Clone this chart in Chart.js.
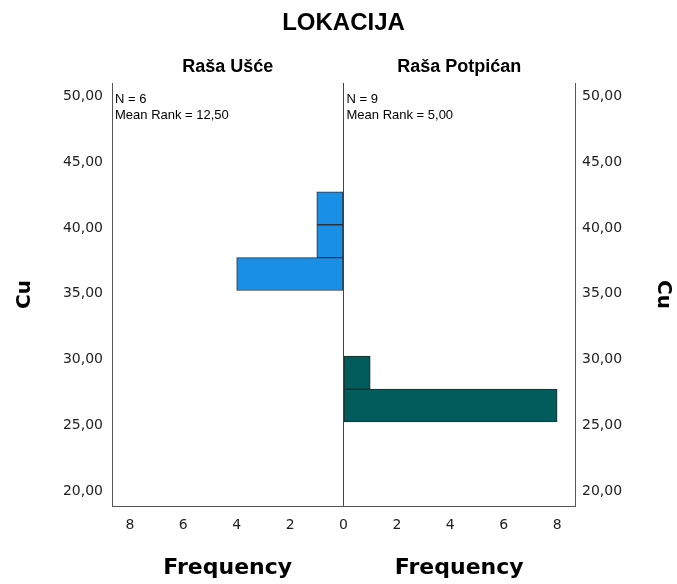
<!DOCTYPE html>
<html>
<head>
<meta charset="utf-8">
<script src="https://cdn.jsdelivr.net/npm/chart.js@4"></script>
<style>
    html, body { margin: 0; padding: 0; background: #ffffff; }
    #wrap { width: 677px; height: 584px; position: relative; }
</style>
</head>
<body>
<div id="wrap"><canvas id="histChart" width="677" height="584"></canvas></div>
<script>
// Dados do gráfico (histograma duplo, Mann-Whitney)
const chartTitle = "LOKACIJA";
const groupNames = ["Raša Ušće", "Raša Potpićan"];
const groupN = [6, 9];
const groupMeanRank = ["12,50", "5,00"];

// centros dos intervalos (Cu) e frequências
const usceBins = [36.5, 39, 41.5];
const usceFreq = [4, 1, 1];
const potpicanBins = [26.5, 29];
const potpicanFreq = [8, 1];

const yTicks = [20, 25, 30, 35, 40, 45, 50];
const xTicks = [-8, -6, -4, -2, 0, 2, 4, 6, 8];

document.addEventListener("DOMContentLoaded", function () {

    // Plugin para os textos dos painéis
    const panelText = {
        id: "panelText",
        afterDraw(chart) {
            const ctx = chart.ctx;
            const area = chart.chartArea;
            const zeroX = chart.scales.x.getPixelForValue(0);
            ctx.save();
            ctx.fillStyle = "#000000";
            ctx.textAlign = "center";
            ctx.textBaseline = "middle";

            ctx.font = "bold 24px 'Liberation Sans', Arial, sans-serif";
            ctx.fillText(chartTitle, (area.left + area.right) / 2, 23);

            ctx.font = "bold 18px 'Liberation Sans', Arial, sans-serif";
            ctx.fillText(groupNames[0], (area.left + zeroX) / 2, 67);
            ctx.fillText(groupNames[1], (zeroX + area.right) / 2, 67);

            ctx.font = "bold 22px 'DejaVu Sans', sans-serif";
            ctx.fillText("Frequency", (area.left + zeroX) / 2, 568);
            ctx.fillText("Frequency", (zeroX + area.right) / 2, 568);

            ctx.textAlign = "left";
            ctx.font = "13px 'Liberation Sans', Arial, sans-serif";
            ctx.fillText("N = " + groupN[0], area.left + 3, 99);
            ctx.fillText("Mean Rank = " + groupMeanRank[0], area.left + 3, 115);
            ctx.fillText("N = " + groupN[1], zeroX + 3, 99);
            ctx.fillText("Mean Rank = " + groupMeanRank[1], zeroX + 3, 115);
            ctx.restore();
        }
    };

    const tickFont = { family: "'DejaVu Sans', sans-serif", size: 14 };
    const yLabel = v => v.toFixed(2).replace(".", ",");

    const ctx = document.getElementById("histChart").getContext("2d");
    const histChart = new Chart(ctx, {
        type: 'bar',
        data: {
            datasets: [
                {
                    label: groupNames[0],
                    data: usceBins.map((b, i) => ({ x: -usceFreq[i], y: b })),
                    backgroundColor: "#1a8fe6",
                    borderColor: "#2a3138",
                    borderWidth: 1,
                    borderSkipped: false,
                    grouped: false,
                    barPercentage: 1,
                    categoryPercentage: 1,
                },
                {
                    label: groupNames[1],
                    data: potpicanBins.map((b, i) => ({ x: potpicanFreq[i], y: b })),
                    backgroundColor: "#025c5b",
                    borderColor: "#1d2b2b",
                    borderWidth: 1,
                    borderSkipped: false,
                    grouped: false,
                    barPercentage: 1,
                    categoryPercentage: 1,
                },
            ],
        },
        options: {
            indexAxis: 'y',
            responsive: false,
            animation: false,
            layout: { padding: { top: 83, left: 0, right: 0, bottom: 0 } },
            plugins: {
                legend: { display: false },
                tooltip: { enabled: false },
            },
            scales: {
                x: {
                    type: 'linear',
                    min: -8.67,
                    max: 8.67,
                    afterFit: s => { s.height = 78; },
                    afterBuildTicks: s => { s.ticks = xTicks.map(v => ({ value: v })); },
                    ticks: {
                        padding: 11,
                        color: "#222222",
                        font: tickFont,
                        callback: v => Math.abs(v),
                    },
                    grid: {
                        drawTicks: false,
                        color: c => (c.tick && c.tick.value === 0) ? "#444444" : "transparent",
                    },
                    border: { display: true, color: "#555555" },
                },
                y: {
                    type: 'linear',
                    position: 'left',
                    offset: false,
                    min: 18.85,
                    max: 51.04,
                    afterFit: s => { s.width = 112; },
                    afterBuildTicks: s => { s.ticks = yTicks.map(v => ({ value: v })); },
                    ticks: { padding: 9, color: "#222222", font: tickFont, callback: yLabel },
                    grid: { drawTicks: false, color: "transparent" },
                    border: { display: true, color: "#555555" },
                    title: {
                        display: true,
                        text: "Cu",
                        color: "#000000",
                        padding: { top: 13, bottom: 0 },
                        font: { family: "'DejaVu Sans', sans-serif", size: 20, weight: 'bold' },
                    },
                },
                y2: {
                    type: 'linear',
                    position: 'right',
                    offset: false,
                    min: 18.85,
                    max: 51.04,
                    afterFit: s => { s.width = 102; },
                    afterBuildTicks: s => { s.ticks = yTicks.map(v => ({ value: v })); },
                    ticks: { padding: 7, color: "#222222", font: tickFont, callback: yLabel },
                    grid: { drawTicks: false, color: "transparent" },
                    border: { display: true, color: "#555555" },
                    title: {
                        display: true,
                        text: "Cu",
                        color: "#000000",
                        padding: { top: 2, bottom: 0 },
                        font: { family: "'DejaVu Sans', sans-serif", size: 20, weight: 'bold' },
                    },
                },
            },
        },
        plugins: [panelText],
    });
});
</script>
</body>
</html>
